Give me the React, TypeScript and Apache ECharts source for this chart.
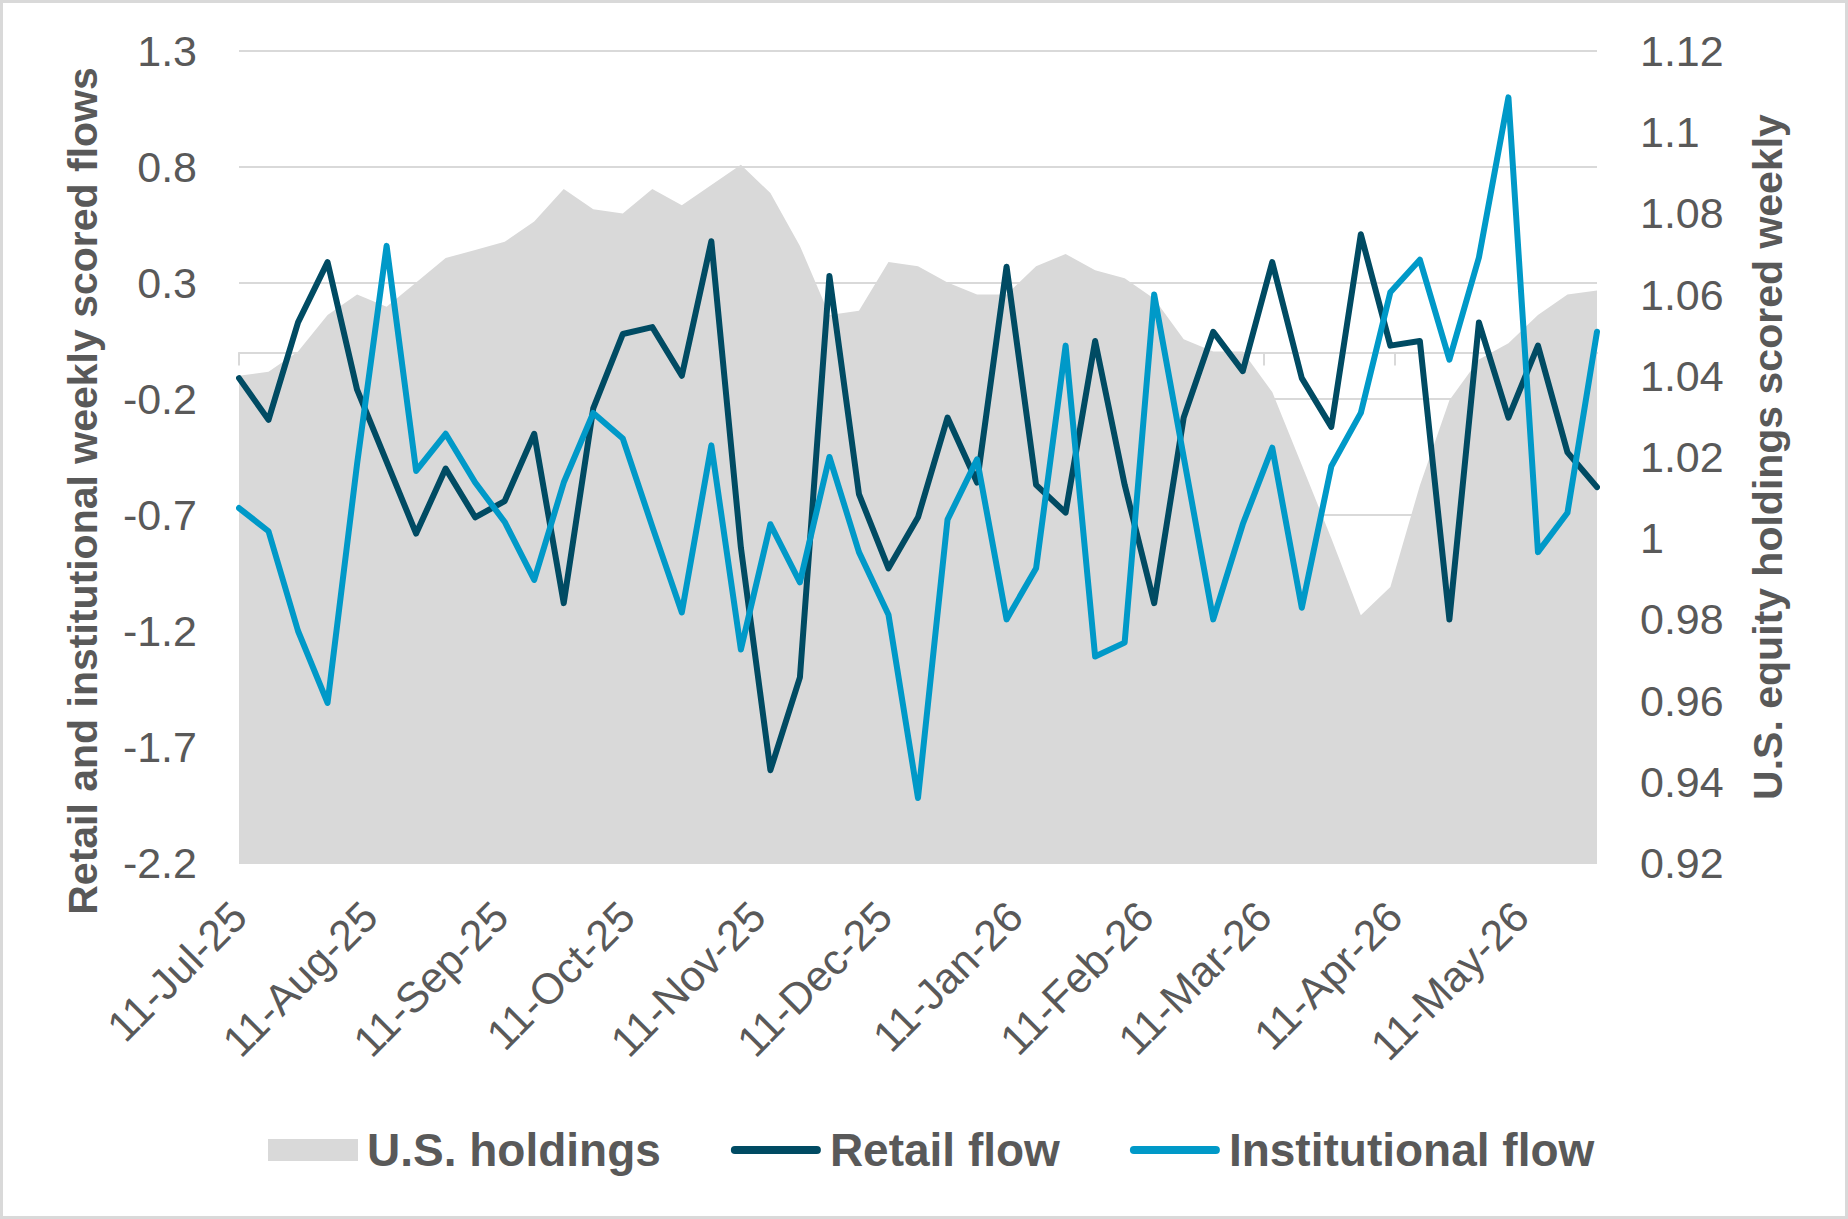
import React, { useEffect, useRef } from "react";
import * as echarts from "echarts";

// Weekly observations (Fridays) from 11-Jul-25 to 29-May-26
const FIRST_WEEK = Date.UTC(2025, 6, 11);
const LAST_WEEK = Date.UTC(2026, 4, 29);
const DAY_MS = 86400000;
const MONTHS = ["Jan", "Feb", "Mar", "Apr", "May", "Jun", "Jul", "Aug", "Sep", "Oct", "Nov", "Dec"];

// U.S. equity holdings, scored weekly (right axis)
const usHoldings = [
  1.040, 1.041, 1.046, 1.055, 1.060, 1.057, 1.063, 1.069, 1.071, 1.073,
  1.078, 1.086, 1.081, 1.080, 1.086, 1.082, 1.087, 1.092, 1.085, 1.072,
  1.055, 1.056, 1.068, 1.067, 1.063, 1.060, 1.060, 1.067, 1.070, 1.066,
  1.064, 1.059, 1.049, 1.046, 1.046, 1.036, 1.018, 1.000, 0.981, 0.988,
  1.013, 1.034, 1.044, 1.048, 1.055, 1.060, 1.061,
];

// Retail weekly scored flow (left axis)
const retailFlow = [
  -0.11, -0.29, 0.13, 0.39, -0.16, -0.47, -0.78, -0.50, -0.71, -0.64,
  -0.35, -1.08, -0.24, 0.08, 0.11, -0.10, 0.48, -0.84, -1.80, -1.40,
  0.33, -0.61, -0.93, -0.71, -0.28, -0.56, 0.37, -0.57, -0.69, 0.05,
  -0.57, -1.08, -0.28, 0.09, -0.08, 0.39, -0.11, -0.32, 0.51, 0.03,
  0.05, -1.15, 0.13, -0.28, 0.03, -0.43, -0.58,
];

// Institutional weekly scored flow (left axis)
const institutionalFlow = [
  -0.67, -0.77, -1.20, -1.51, -0.48, 0.46, -0.51, -0.35, -0.56, -0.73,
  -0.98, -0.56, -0.26, -0.37, -0.75, -1.12, -0.40, -1.28, -0.74, -0.99,
  -0.45, -0.86, -1.13, -1.92, -0.72, -0.46, -1.15, -0.93, 0.03, -1.31,
  -1.25, 0.25, -0.45, -1.15, -0.74, -0.41, -1.10, -0.49, -0.26, 0.26,
  0.40, -0.03, 0.41, 1.10, -0.86, -0.69, 0.09,
];

// Left axis tick values
const flowTicks = [-2.2, -1.7, -1.2, -0.7, -0.2, 0.3, 0.8, 1.3];

const TEXT_COLOR = "#595959";
const GRID_COLOR = "#d9d9d9";
const RETAIL_COLOR = "#004b63";
const INSTITUTIONAL_COLOR = "#0099c8";
const FONT = "'Liberation Sans', Arial, sans-serif";

const fmtDay = (t: number) => {
  const d = new Date(t);
  return `${d.getUTCDate()}-${MONTHS[d.getUTCMonth()]}-${String(d.getUTCFullYear()).slice(2)}`;
};

// One category per calendar day so the month labels fall on the 11th
const dayCategories: string[] = [];
for (let t = FIRST_WEEK; t <= LAST_WEEK; t += DAY_MS) dayCategories.push(fmtDay(t));

const weekDayIndex = (i: number) => i * 7;
const toPairs = (arr: number[]) => arr.map((v, i) => [weekDayIndex(i), v]);

const isMonthMark = (_idx: number, value: string) => value.startsWith("11-");

const legendBar = "path://M4,0H86A4,4,0,0,1,86,8H4A4,4,0,0,1,4,0Z";

export default function App() {
  const ref = useRef<HTMLDivElement>(null);

  useEffect(() => {
    if (!ref.current) return;
    const chart = echarts.init(ref.current, undefined, { renderer: "svg" });

    chart.setOption({
      animation: false,
      backgroundColor: "#ffffff",
      textStyle: { fontFamily: FONT },
      grid: { left: 239, right: 251, top: 51, bottom: 356, containLabel: false },
      xAxis: [
        {
          type: "category",
          data: dayCategories,
          boundaryGap: false,
          position: "bottom",
          axisLine: { show: false, onZero: false },
          axisTick: { show: false },
          splitLine: { show: false },
          axisLabel: {
            interval: isMonthMark,
            rotate: 45,
            margin: 46,
            fontSize: 43,
            color: TEXT_COLOR,
            fontFamily: FONT,
          },
        },
        {
          type: "category",
          data: dayCategories,
          boundaryGap: false,
          position: "top",
          axisLine: {
            show: true,
            onZero: true,
            onZeroAxisIndex: 0,
            lineStyle: { color: GRID_COLOR, width: 2 },
          },
          axisTick: {
            show: true,
            interval: isMonthMark,
            inside: true,
            length: 13,
            lineStyle: { color: GRID_COLOR, width: 2 },
          },
          axisLabel: { show: false },
          splitLine: { show: false },
        },
      ],
      yAxis: [
        {
          type: "value",
          position: "left",
          min: -2.2,
          max: 1.3,
          axisLine: { show: false },
          axisTick: { show: false, customValues: flowTicks },
          axisLabel: {
            customValues: flowTicks,
            margin: 42,
            fontSize: 43,
            color: TEXT_COLOR,
            fontFamily: FONT,
            formatter: (v: number) => String(Math.round(v * 10) / 10),
          },
          splitLine: { show: true, lineStyle: { color: GRID_COLOR, width: 2 } },
        },
        {
          type: "value",
          position: "right",
          min: 0.92,
          max: 1.12,
          interval: 0.02,
          axisLine: { show: false },
          axisTick: { show: false },
          axisLabel: {
            margin: 43,
            fontSize: 43,
            color: TEXT_COLOR,
            fontFamily: FONT,
            formatter: (v: number) => String(parseFloat(v.toFixed(2))),
          },
          splitLine: { show: false },
        },
      ],
      legend: {
        left: 263,
        top: 1122,
        itemWidth: 90,
        itemHeight: 22,
        itemGap: 70,
        symbolKeepAspect: true,
        textStyle: {
          fontSize: 46,
          fontWeight: "bold",
          color: TEXT_COLOR,
          fontFamily: FONT,
          padding: [0, 0, 0, 4],
        },
        data: [
          { name: "U.S. holdings", icon: "rect", itemStyle: { color: GRID_COLOR, borderWidth: 0 } },
          { name: "Retail flow", icon: legendBar, itemStyle: { color: RETAIL_COLOR, borderWidth: 0 } },
          { name: "Institutional flow", icon: legendBar, itemStyle: { color: INSTITUTIONAL_COLOR, borderWidth: 0 } },
        ],
      },
      series: [
        {
          name: "U.S. holdings",
          type: "line",
          xAxisIndex: 0,
          yAxisIndex: 1,
          data: toPairs(usHoldings),
          symbol: "none",
          color: GRID_COLOR,
          lineStyle: { width: 0, color: GRID_COLOR },
          areaStyle: { color: GRID_COLOR, opacity: 1, origin: "start" },
          z: 2,
        },
        {
          name: "Retail flow",
          type: "line",
          xAxisIndex: 0,
          yAxisIndex: 0,
          data: toPairs(retailFlow),
          symbol: "none",
          color: RETAIL_COLOR,
          lineStyle: { width: 6, color: RETAIL_COLOR, cap: "round", join: "round" },
          z: 3,
        },
        {
          name: "Institutional flow",
          type: "line",
          xAxisIndex: 0,
          yAxisIndex: 0,
          data: toPairs(institutionalFlow),
          symbol: "none",
          color: INSTITUTIONAL_COLOR,
          lineStyle: { width: 6, color: INSTITUTIONAL_COLOR, cap: "round", join: "round" },
          z: 4,
        },
      ],
      graphic: [
        {
          type: "rect",
          shape: { x: 1.5, y: 1.5, width: 1845, height: 1216 },
          style: { fill: "none", stroke: GRID_COLOR, lineWidth: 3 },
          silent: true,
        },
        {
          type: "text",
          x: 83,
          y: 491,
          rotation: Math.PI / 2,
          style: {
            text: "Retail and institutional weekly scored flows",
            fontSize: 41,
            fontWeight: "bold",
            fill: TEXT_COLOR,
            fontFamily: FONT,
            align: "center",
            verticalAlign: "middle",
          },
        },
        {
          type: "text",
          x: 1768,
          y: 457,
          rotation: Math.PI / 2,
          style: {
            text: "U.S. equity holdings scored weekly",
            fontSize: 41,
            fontWeight: "bold",
            fill: TEXT_COLOR,
            fontFamily: FONT,
            align: "center",
            verticalAlign: "middle",
          },
        },
      ],
    });

    return () => chart.dispose();
  }, []);

  return (
    <div
      ref={ref}
      style={{ position: "fixed", left: 0, top: 0, width: 1848, height: 1219, background: "#fff" }}
    />
  );
}
